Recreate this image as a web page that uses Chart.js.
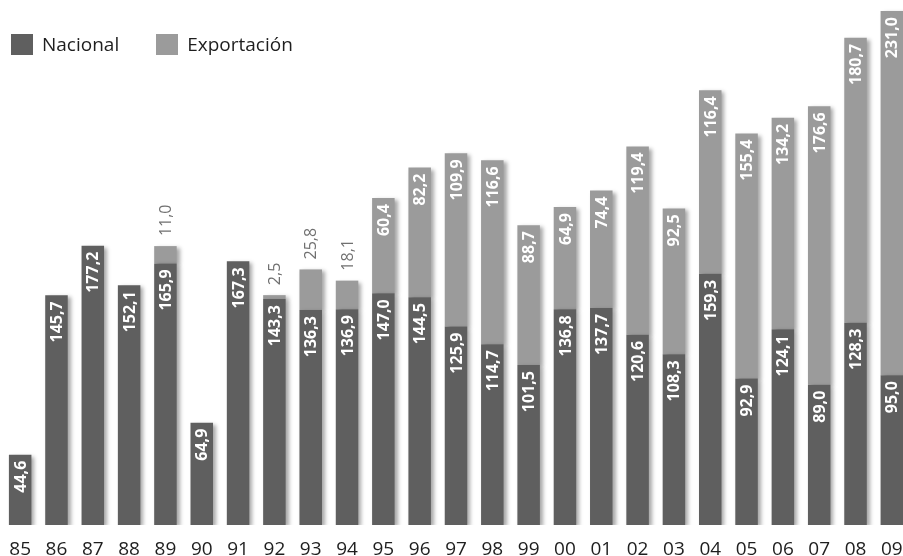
<!DOCTYPE html>
<html>
<head>
<meta charset="utf-8">
<script src="https://cdn.jsdelivr.net/npm/chart.js@4.4.1/dist/chart.umd.min.js"></script>
<style>
  html, body { margin: 0; padding: 0; background: #fff; overflow: hidden; }
  #wrap { position: relative; width: 910px; height: 556px; }
  #legend { position: absolute; left: 11px; top: 31px; display: flex; font-family: "Open Sans", sans-serif; font-size: 19px; color: #1e1e1e; }
  #legend .item { display: flex; align-items: center; margin-right: 37px; }
  #legend .box { width: 22px; height: 21px; margin-right: 9px; }
</style>
</head>
<body>
<div id="wrap">
  <canvas id="myChart"></canvas>
  <div id="legend"></div>
</div>
<script>
// years 1985-2009
const years = ['85', '86', '87', '88', '89', '90', '91', '92', '93', '94', '95', '96', '97',
  '98', '99', '00', '01', '02', '03', '04', '05', '06', '07', '08', '09'];

const nacional = [44.6, 145.7, 177.2, 152.1, 165.9, 64.9, 167.3, 143.3, 136.3, 136.9, 147.0, 144.5, 125.9,
  114.7, 101.5, 136.8, 137.7, 120.6, 108.3, 159.3, 92.9, 124.1, 89.0, 128.3, 95.0];

const exportacion = [null, null, null, null, 11.0, null, null, 2.5, 25.8, 18.1, 60.4, 82.2, 109.9,
  116.6, 88.7, 64.9, 74.4, 119.4, 92.5, 116.4, 155.4, 134.2, 176.6, 180.7, 231.0];

const seriesNames = ['Nacional', 'Exportación'];
const seriesColors = ['#5f5f5f', '#9b9b9b'];

// soft drop shadow on the bars
const barShadow = {
  id: 'barShadow',
  beforeDatasetsDraw(chart) {
    const ctx = chart.ctx;
    ctx.save();
    ctx.shadowColor = 'rgba(0,0,0,0.35)';
    ctx.shadowBlur = 4;
    ctx.shadowOffsetX = 3;
    ctx.shadowOffsetY = 2;
  },
  afterDatasetsDraw(chart) {
    chart.ctx.restore();
  }
};

// vertical value labels, inside the segment or above it when it is too short
const valueLabels = {
  id: 'valueLabels',
  afterDatasetsDraw(chart) {
    const ctx = chart.ctx;
    chart.data.datasets.forEach((ds, di) => {
      const meta = chart.getDatasetMeta(di);
      meta.data.forEach((bar, i) => {
        const v = ds.data[i];
        if (v == null) return;
        const txt = v.toFixed(1).replace('.', ',');
        const h = bar.base - bar.y;
        ctx.save();
        ctx.translate(bar.x + 1, bar.y);
        ctx.rotate(-Math.PI / 2);
        ctx.textBaseline = 'middle';
        ctx.font = 'bold 16px "Open Sans"';
        const w = ctx.measureText(txt).width;
        if (h > w + 16) {
          ctx.fillStyle = '#ffffff';
          ctx.textAlign = 'right';
          ctx.fillText(txt, -6, 0);
        } else {
          ctx.font = '16px "Open Sans"';
          ctx.fillStyle = '#707070';
          ctx.textAlign = 'left';
          ctx.fillText(txt, 10, 0);
        }
        ctx.restore();
      });
    });
  }
};

const data = {
  labels: years,
  datasets: [
    { label: seriesNames[0], data: nacional, backgroundColor: seriesColors[0] },
    { label: seriesNames[1], data: exportacion, backgroundColor: seriesColors[1] }
  ]
};

const config = {
  type: 'bar',
  data,
  options: {
    responsive: true,
    maintainAspectRatio: false,
    animation: false,
    layout: { padding: { left: 2, right: 0, top: 0, bottom: 0 } },
    datasets: { bar: { barPercentage: 0.62, categoryPercentage: 1 } },
    plugins: { legend: { display: false }, tooltip: { enabled: false } },
    scales: {
      x: {
        stacked: true,
        grid: { display: false },
        border: { display: false },
        ticks: { color: '#1e1e1e', font: { family: 'Open Sans', size: 19 }, padding: 5, maxRotation: 0 },
        // fixed axis height so the baseline sits at y = 525
        afterFit(scale) { scale.height = 31; }
      },
      y: { stacked: true, display: false, min: 0, max: 333 }
    }
  },
  plugins: [barShadow, valueLabels]
};

const myChart = new Chart(document.getElementById('myChart'), config);

// legend built from the datasets
const legend = document.getElementById('legend');
myChart.data.datasets.forEach(ds => {
  const item = document.createElement('div');
  item.className = 'item';
  item.innerHTML = '<span class="box" style="background:' + ds.backgroundColor + '"></span>' + ds.label;
  legend.appendChild(item);
});
</script>
</body>
</html>
